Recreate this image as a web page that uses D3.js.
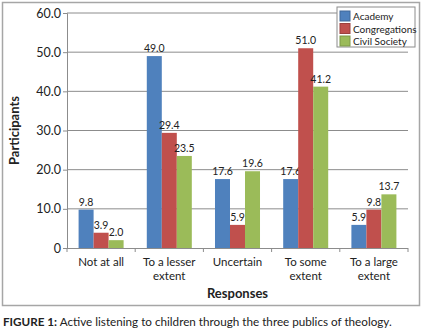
<!DOCTYPE html>
<html>
<head>
<meta charset="utf-8">
<script src="https://cdn.jsdelivr.net/npm/d3@7"></script>
<style>
  body { margin: 0; background: #fff; }
  svg text { font-family: Lato, "Open Sans", sans-serif; fill: #222; }
</style>
</head>
<body>
<div id="chart"></div>
<script>
// categories and series
var categories = [["Not at all"], ["To a lesser", "extent"], ["Uncertain"], ["To some", "extent"], ["To a large", "extent"]];
var seriesNames = ["Academy", "Congregations", "Civil Society"];
var academy = [9.8, 49.0, 17.6, 17.6, 5.9];
var congregations = [3.9, 29.4, 5.9, 51.0, 9.8];
var civilSociety = [2.0, 23.5, 19.6, 41.2, 13.7];
var yTicks = [0, 10, 20, 30, 40, 50, 60];
var colors = ["#4f81bd", "#c0504d", "#9bbb59"];

var W = 422, H = 331;
var margin = {top: 13, right: 14, bottom: 83, left: 67},
    width = W - margin.left - margin.right,
    height = H - margin.top - margin.bottom;

var values = [academy, congregations, civilSociety];

var svg = d3.select("#chart").append("svg")
    .attr("width", W).attr("height", H);

// outer frame
svg.append("rect")
    .attr("x", 2.5).attr("y", 2.5)
    .attr("width", 417).attr("height", 303)
    .attr("fill", "none").attr("stroke", "#a6a6a6").attr("stroke-width", 1.5);

var g = svg.append("g").attr("transform", "translate(" + margin.left + "," + margin.top + ")");

var x = d3.scaleBand().domain(d3.range(categories.length)).range([0, width]).paddingInner(0.34).paddingOuter(0.17);
var xs = d3.scaleBand().domain(d3.range(seriesNames.length)).range([0, x.bandwidth()]);
var y = d3.scaleLinear().domain([0, 60]).range([height, 0]);

// gridlines
g.selectAll(".grid").data(yTicks.slice(1)).enter().append("line")
    .attr("x1", 0).attr("x2", width)
    .attr("y1", function(d) { return y(d); }).attr("y2", function(d) { return y(d); })
    .attr("stroke", "#8c8c8c").attr("stroke-width", 1);

// y axis
var yAxis = g.append("g")
    .call(d3.axisLeft(y).tickValues(yTicks).tickSize(4)
      .tickFormat(function(d) { return d === 0 ? "0" : d3.format(".1f")(d); }));
yAxis.select(".domain").attr("stroke", "#8c8c8c");
yAxis.selectAll(".tick line").attr("stroke", "#8c8c8c");
yAxis.selectAll("text").attr("font-size", 12.5).attr("x", -6).attr("fill", "#222");

// bars
var groups = g.selectAll(".cat").data(categories).enter().append("g")
    .attr("transform", function(d, i) { return "translate(" + x(i) + ",0)"; });

groups.each(function(c, i) {
  var grp = d3.select(this);
  seriesNames.forEach(function(s, j) {
    var v = values[j][i];
    grp.append("rect")
      .attr("x", xs(j)).attr("width", xs.bandwidth())
      .attr("y", y(v)).attr("height", height - y(v))
      .attr("fill", colors[j]);
    grp.append("text")
      .attr("x", xs(j) + xs.bandwidth() / 2)
      .attr("y", y(v) - 4)
      .attr("text-anchor", "middle")
      .attr("font-size", 10.5)
      .attr("fill", "#333")
      .text(d3.format(".1f")(v));
  });
});

// x axis
var step = width / categories.length;
g.append("line").attr("x1", 0).attr("x2", width).attr("y1", height + 0.5).attr("y2", height + 0.5)
    .attr("stroke", "#8c8c8c");
g.selectAll(".xtick").data(d3.range(categories.length + 1)).enter().append("line")
    .attr("x1", function(d) { return d * step; }).attr("x2", function(d) { return d * step; })
    .attr("y1", height).attr("y2", height + 4)
    .attr("stroke", "#8c8c8c");

groups.each(function(c) {
  var grp = d3.select(this);
  c.forEach(function(line, k) {
    grp.append("text")
      .attr("x", x.bandwidth() / 2)
      .attr("y", height + 18 + k * 13.5)
      .attr("text-anchor", "middle")
      .attr("font-size", 11.5)
      .text(line);
  });
});

// axis titles
g.append("text")
    .attr("x", width / 2).attr("y", height + 50)
    .attr("text-anchor", "middle").attr("font-size", 13).attr("font-weight", "bold")
    .text("Responses");
g.append("text")
    .attr("transform", "translate(" + (-48) + "," + (height / 2) + ") rotate(-90)")
    .attr("text-anchor", "middle").attr("font-size", 13).attr("font-weight", "bold")
    .text("Participants");

// legend
var legend = svg.append("g").attr("transform", "translate(337,7)");
legend.append("rect").attr("width", 78).attr("height", 40)
    .attr("fill", "#fff").attr("stroke", "#8c8c8c");
seriesNames.forEach(function(s, j) {
  legend.append("rect").attr("x", 3).attr("y", 4 + j * 12.5).attr("width", 10).attr("height", 10)
    .attr("fill", colors[j]).attr("stroke", d3.color(colors[j]).darker(0.6));
  legend.append("text").attr("x", 16).attr("y", 13 + j * 12.5)
    .attr("font-size", 10).text(s);
});

// caption
var cap = svg.append("text").attr("x", 3).attr("y", 326).attr("font-size", 11.7);
cap.append("tspan").attr("font-weight", "bold").text("FIGURE 1:");
cap.append("tspan").text(" Active listening to children through the three publics of theology.");
</script>
</body>
</html>
